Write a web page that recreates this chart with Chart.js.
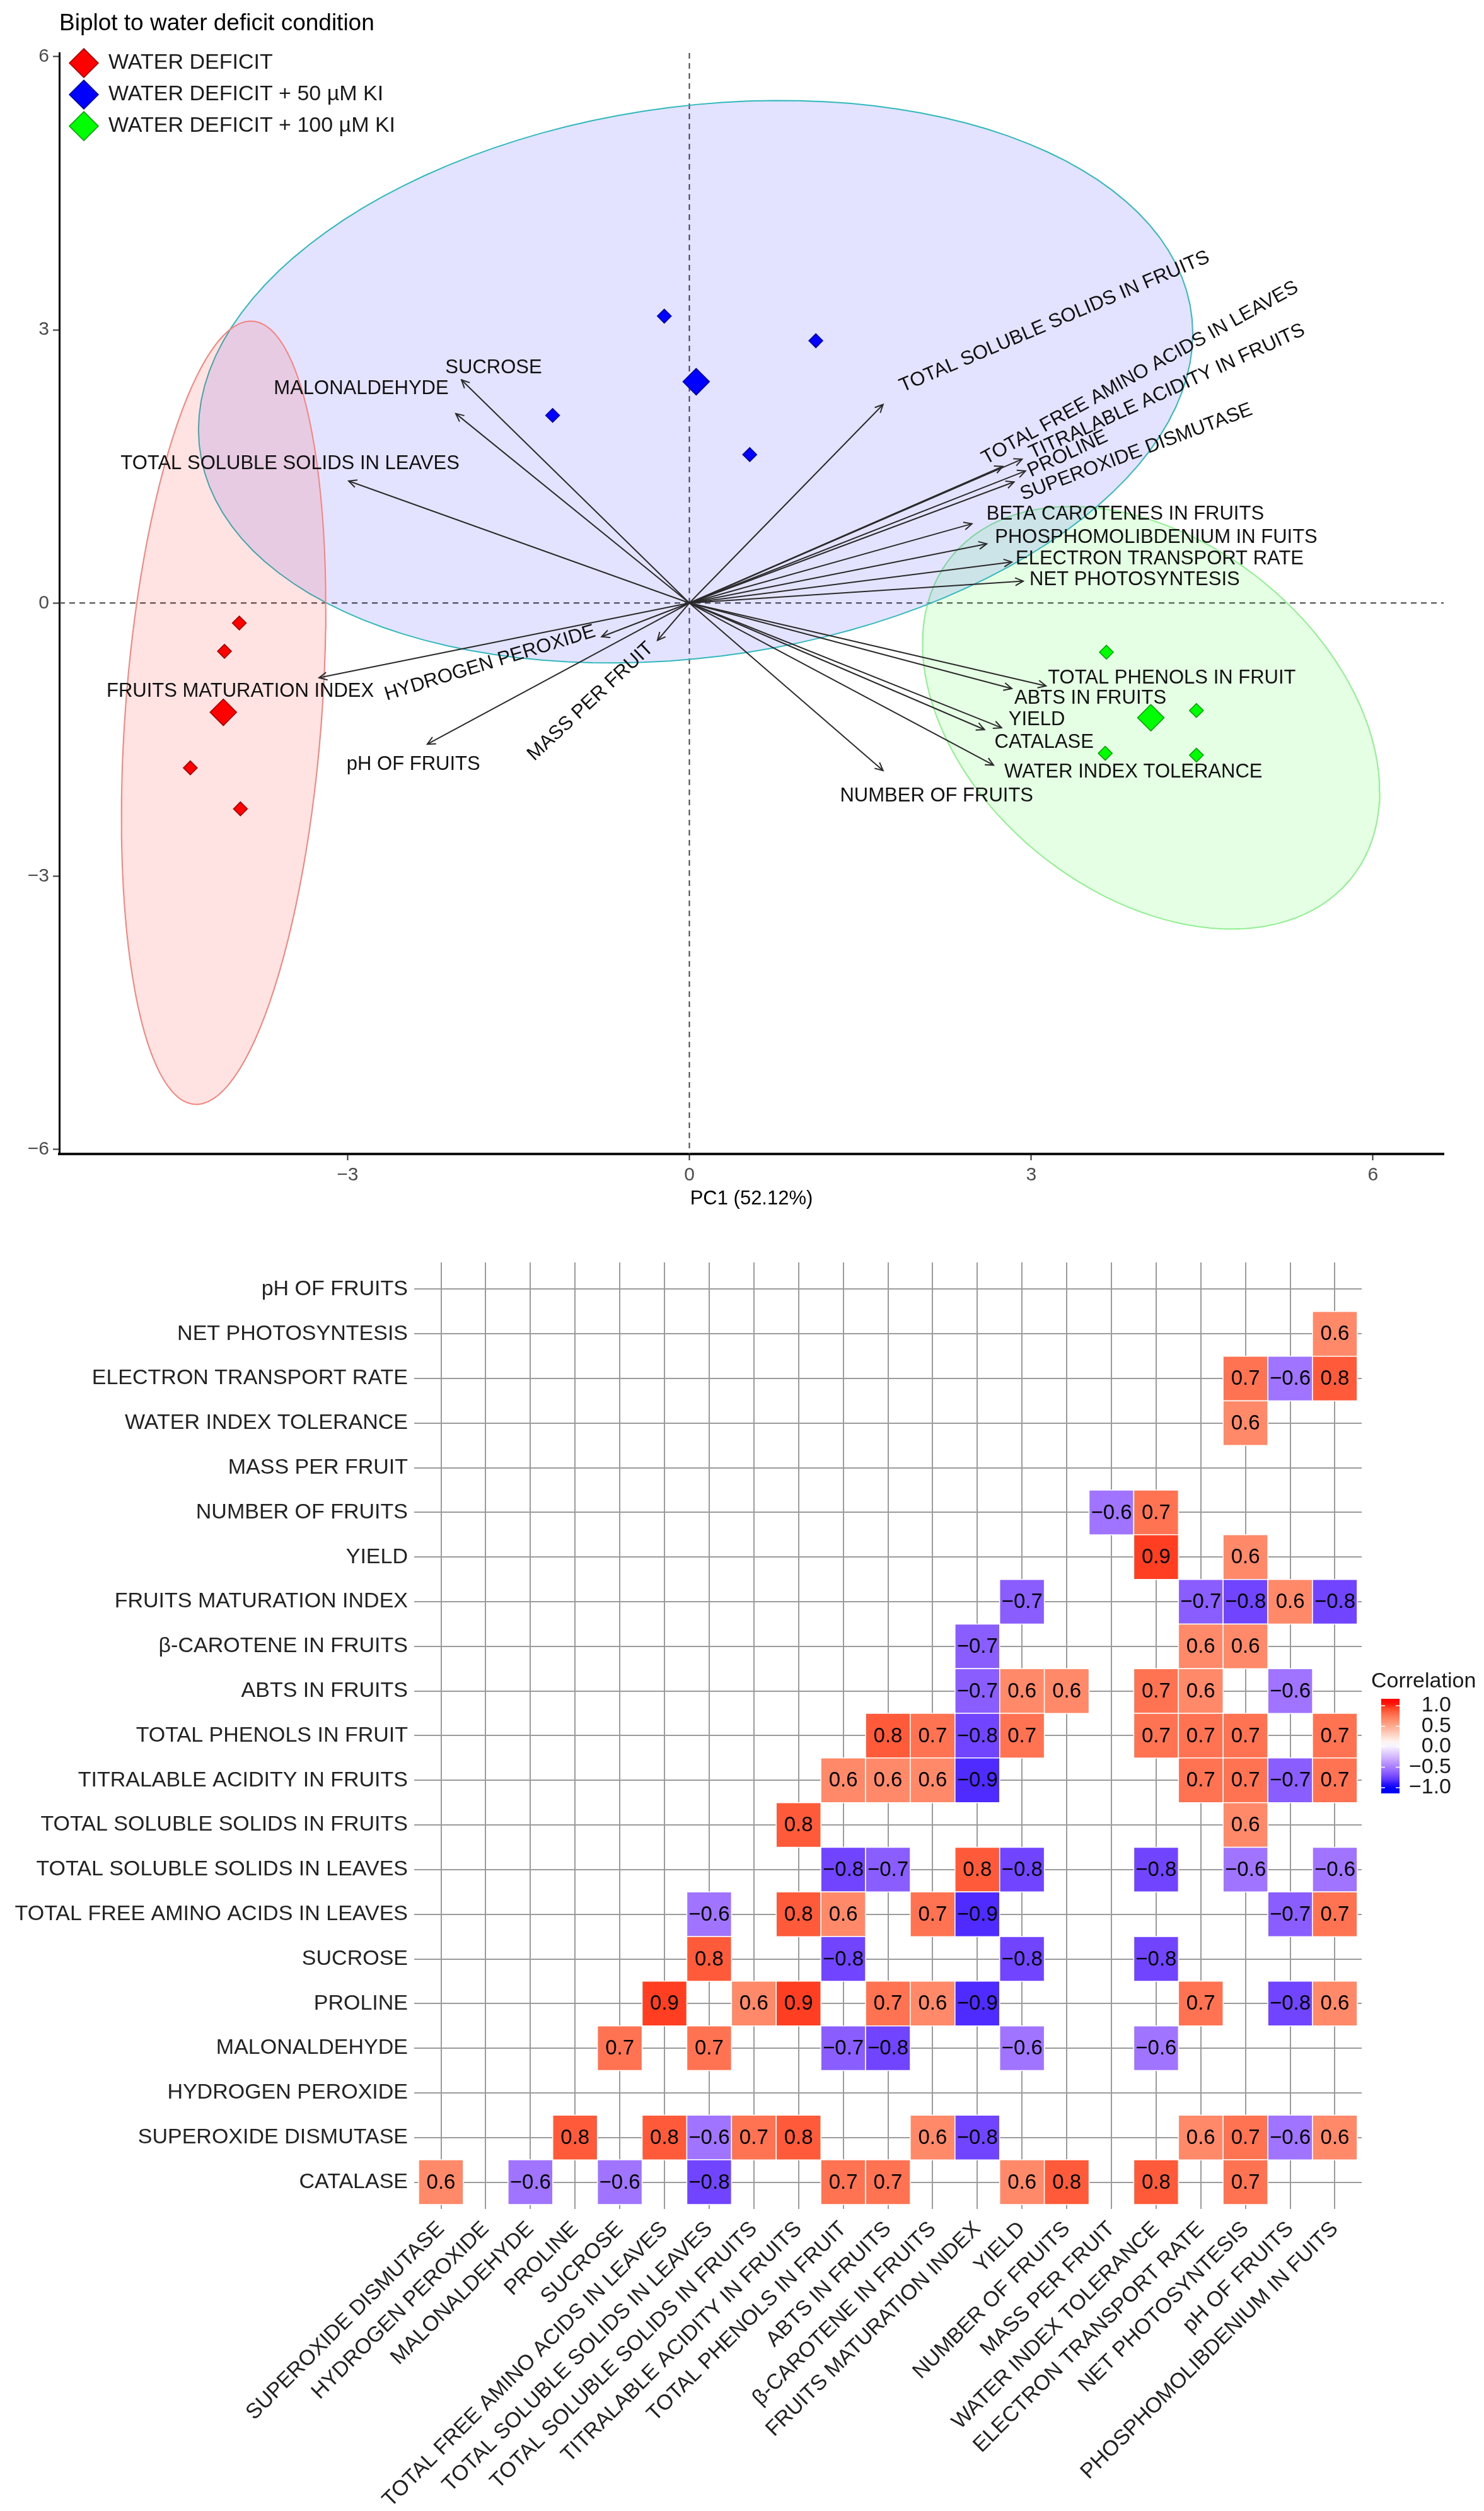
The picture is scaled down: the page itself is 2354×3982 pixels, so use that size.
<!DOCTYPE html>
<html>
<head>
<meta charset="utf-8">
<script src="https://cdn.jsdelivr.net/npm/chart.js@4.4.1/dist/chart.umd.min.js"></script>
<style>
  html, body { margin: 0; padding: 0; background: #fff; }
  #bipWrap { position: absolute; left: 0; top: 0; width: 2354px; height: 1960px; }
  #corrWrap { position: absolute; left: 0; top: 1960px; width: 2354px; height: 2022px; }
</style>
</head>
<body>
<div id="bipWrap"><canvas id="biplot"></canvas></div>
<div id="corrWrap"><canvas id="corr"></canvas></div>
<script>
const FONT = '"Liberation Sans", Arial, Helvetica, sans-serif';

// ---------- biplot data ----------
const groupNames = ['WATER DEFICIT', 'WATER DEFICIT + 50 µM KI', 'WATER DEFICIT + 100 µM KI'];
const wdX = [-3.95, -4.08, -4.38, -3.94];
const wdY = [-0.22, -0.53, -1.81, -2.26];
const ki50X = [-0.22, -1.20, 1.11, 0.53];
const ki50Y = [3.15, 2.06, 2.88, 1.63];
const ki100X = [3.66, 4.45, 3.65, 4.45];
const ki100Y = [-0.54, -1.18, -1.65, -1.67];
const meanX = [-4.09, 0.06, 4.05];
const meanY = [-1.20, 2.43, -1.26];

const varNames = [
  'SUCROSE', 'MALONALDEHYDE', 'TOTAL SOLUBLE SOLIDS IN LEAVES', 'FRUITS MATURATION INDEX',
  'HYDROGEN PEROXIDE', 'MASS PER FRUIT', 'pH OF FRUITS', 'TOTAL SOLUBLE SOLIDS IN FRUITS',
  'TOTAL FREE AMINO ACIDS IN LEAVES', 'TITRALABLE ACIDITY IN FRUITS', 'PROLINE', 'SUPEROXIDE DISMUTASE',
  'BETA CAROTENES IN FRUITS', 'PHOSPHOMOLIBDENIUM IN FUITS', 'ELECTRON TRANSPORT RATE', 'NET PHOTOSYNTESIS',
  'TOTAL PHENOLS IN FRUIT', 'ABTS IN FRUITS', 'YIELD', 'CATALASE', 'WATER INDEX TOLERANCE', 'NUMBER OF FRUITS'
];
const loadX = [-2.00, -2.05, -2.99, -3.25, -0.77, -0.28, -2.30, 1.70, 2.75, 2.92, 2.95, 2.85,
               2.48, 2.61, 2.83, 2.93, 3.13, 2.83, 2.74, 2.59, 2.67, 1.70];
const loadY = [2.45, 2.08, 1.34, -0.82, -0.37, -0.41, -1.55, 2.18, 1.50, 1.58, 1.45, 1.33,
               0.87, 0.65, 0.45, 0.24, -0.91, -0.94, -1.37, -1.39, -1.78, -1.84];

const xTicks = [-3, 0, 3, 6];
const yTicks = [-6, -3, 0, 3, 6];

// label placement relative to arrow tip: [dx px, dy px, angle deg, align]
const labelLayout = [
  [51, -19, 0, 'center'], [-150, -39, 0, 'center'], [-93, -27, 0, 'center'], [-125, 22, 0, 'center'],
  [-177, 42, 17, 'center'], [-106, 97, 43, 'center'], [-22, 32, 0, 'center'], [272, -131, 23, 'center'],
  [218, -148, 29, 'center'], [230, -107, 24.5, 'center'], [67, -27, 25, 'center'], [194, -47, 20.5, 'center'],
  [23, -15, 0, 'left'], [13, -10, 0, 'left'], [6, -5, 0, 'left'], [10, -2, 0, 'left'],
  [3, -12, 0, 'left'], [4, 15, 0, 'left'], [11, -13, 0, 'left'], [16, 20, 0, 'left'],
  [17, 11, 0, 'left'], [85, 40, 0, 'center']
];

// ---------- correlation data ----------
const rowLabels = [
  'pH OF FRUITS', 'NET PHOTOSYNTESIS', 'ELECTRON TRANSPORT RATE', 'WATER INDEX TOLERANCE', 'MASS PER FRUIT',
  'NUMBER OF FRUITS', 'YIELD', 'FRUITS MATURATION INDEX', 'β-CAROTENE IN FRUITS', 'ABTS IN FRUITS',
  'TOTAL PHENOLS IN FRUIT', 'TITRALABLE ACIDITY IN FRUITS', 'TOTAL SOLUBLE SOLIDS IN FRUITS',
  'TOTAL SOLUBLE SOLIDS IN LEAVES', 'TOTAL FREE AMINO ACIDS IN LEAVES', 'SUCROSE', 'PROLINE',
  'MALONALDEHYDE', 'HYDROGEN PEROXIDE', 'SUPEROXIDE DISMUTASE', 'CATALASE'
];
const colLabels = [
  'SUPEROXIDE DISMUTASE', 'HYDROGEN PEROXIDE', 'MALONALDEHYDE', 'PROLINE', 'SUCROSE',
  'TOTAL FREE AMINO ACIDS IN LEAVES', 'TOTAL SOLUBLE SOLIDS IN LEAVES', 'TOTAL SOLUBLE SOLIDS IN FRUITS',
  'TITRALABLE ACIDITY IN FRUITS', 'TOTAL PHENOLS IN FRUIT', 'ABTS IN FRUITS', 'β-CAROTENE IN FRUITS',
  'FRUITS MATURATION INDEX', 'YIELD', 'NUMBER OF FRUITS', 'MASS PER FRUIT', 'WATER INDEX TOLERANCE',
  'ELECTRON TRANSPORT RATE', 'NET PHOTOSYNTESIS', 'pH OF FRUITS', 'PHOSPHOMOLIBDENIUM IN FUITS'
];
// [row, column, r]
const corrCells = [
  [1, 20, 0.6],
  [2, 18, 0.7], [2, 19, -0.6], [2, 20, 0.8],
  [3, 18, 0.6],
  [5, 15, -0.6], [5, 16, 0.7],
  [6, 16, 0.9], [6, 18, 0.6],
  [7, 13, -0.7], [7, 17, -0.7], [7, 18, -0.8], [7, 19, 0.6], [7, 20, -0.8],
  [8, 12, -0.7], [8, 17, 0.6], [8, 18, 0.6],
  [9, 12, -0.7], [9, 13, 0.6], [9, 14, 0.6], [9, 16, 0.7], [9, 17, 0.6], [9, 19, -0.6],
  [10, 10, 0.8], [10, 11, 0.7], [10, 12, -0.8], [10, 13, 0.7], [10, 16, 0.7], [10, 17, 0.7], [10, 18, 0.7], [10, 20, 0.7],
  [11, 9, 0.6], [11, 10, 0.6], [11, 11, 0.6], [11, 12, -0.9], [11, 17, 0.7], [11, 18, 0.7], [11, 19, -0.7], [11, 20, 0.7],
  [12, 8, 0.8], [12, 18, 0.6],
  [13, 9, -0.8], [13, 10, -0.7], [13, 12, 0.8], [13, 13, -0.8], [13, 16, -0.8], [13, 18, -0.6], [13, 20, -0.6],
  [14, 6, -0.6], [14, 8, 0.8], [14, 9, 0.6], [14, 11, 0.7], [14, 12, -0.9], [14, 19, -0.7], [14, 20, 0.7],
  [15, 6, 0.8], [15, 9, -0.8], [15, 13, -0.8], [15, 16, -0.8],
  [16, 5, 0.9], [16, 7, 0.6], [16, 8, 0.9], [16, 10, 0.7], [16, 11, 0.6], [16, 12, -0.9], [16, 17, 0.7], [16, 19, -0.8], [16, 20, 0.6],
  [17, 4, 0.7], [17, 6, 0.7], [17, 9, -0.7], [17, 10, -0.8], [17, 13, -0.6], [17, 16, -0.6],
  [19, 3, 0.8], [19, 5, 0.8], [19, 6, -0.6], [19, 7, 0.7], [19, 8, 0.8], [19, 11, 0.6], [19, 12, -0.8], [19, 17, 0.6], [19, 18, 0.7], [19, 19, -0.6], [19, 20, 0.6],
  [20, 0, 0.6], [20, 2, -0.6], [20, 4, -0.6], [20, 6, -0.8], [20, 9, 0.7], [20, 10, 0.7], [20, 13, 0.6], [20, 14, 0.8], [20, 16, 0.8], [20, 18, 0.7]
];
const legendTicks = [1.0, 0.5, 0.0, -0.5, -1.0];

// ---------- styles ----------
const groupFill = ['#ff0000', '#0000ff', '#00ff00'];
const groupEdge = ['#9a0000', '#00009a', '#009a00'];
const ellipseFill = ['rgba(255,0,0,0.11)', 'rgba(0,0,255,0.11)', 'rgba(0,255,0,0.10)'];
const ellipseLine = ['#f4837c', '#30b8bc', '#8ff08f'];

Chart.defaults.font.family = FONT;

const minus = v => (v < 0 ? '\u2212' + Math.abs(v) : String(v));

// stat_ellipse(type = "norm", level = 0.95) on each group's points
const F95 = 9.552094; // qf(0.95, 2, 3)
function ellipse(xs, ys) {
  const n = xs.length;
  const mx = xs.reduce((a, b) => a + b, 0) / n;
  const my = ys.reduce((a, b) => a + b, 0) / n;
  let sxx = 0, syy = 0, sxy = 0;
  for (let i = 0; i < n; i++) {
    const dx = xs[i] - mx, dy = ys[i] - my;
    sxx += dx * dx; syy += dy * dy; sxy += dx * dy;
  }
  sxx /= n - 1; syy /= n - 1; sxy /= n - 1;
  const r11 = Math.sqrt(sxx), r12 = sxy / r11, r22 = Math.sqrt(syy - r12 * r12);
  const rad = Math.sqrt(2 * F95);
  const pts = [];
  for (let k = 0; k <= 120; k++) {
    const t = 2 * Math.PI * k / 120, c = Math.cos(t), s = Math.sin(t);
    pts.push({ x: mx + rad * c * r11, y: my + rad * (c * r12 + s * r22) });
  }
  return pts;
}

const groupXs = [wdX, ki50X, ki100X];
const groupYs = [wdY, ki50Y, ki100Y];

const bipDatasets = [];
groupNames.forEach((name, g) => {
  bipDatasets.push({
    label: name,
    data: groupXs[g].map((x, k) => ({ x, y: groupYs[g][k] })),
    pointStyle: 'rectRot', pointRadius: 11,
    backgroundColor: groupFill[g], borderColor: groupEdge[g], borderWidth: 1.5,
    order: 0
  });
});
bipDatasets.push({
  label: 'means',
  data: meanX.map((x, g) => ({ x, y: meanY[g] })),
  pointStyle: 'rectRot', pointRadius: 21,
  backgroundColor: groupFill, borderColor: groupEdge, borderWidth: 1.5,
  order: 0
});
varNames.forEach((name, i) => {
  bipDatasets.push({
    label: name,
    data: [{ x: 0, y: 0 }, { x: loadX[i], y: loadY[i] }],
    showLine: true, pointRadius: 0, borderColor: '#2a2a2a', borderWidth: 2,
    order: 1
  });
});
groupNames.forEach((name, g) => {
  bipDatasets.push({
    label: name + ' ellipse',
    data: ellipse(groupXs[g], groupYs[g]),
    showLine: true, pointRadius: 0, tension: 0,
    fill: 'shape', backgroundColor: ellipseFill[g], borderColor: ellipseLine[g], borderWidth: 2,
    order: 2
  });
});

function drawDiamond(ctx, x, y, r) {
  ctx.beginPath();
  ctx.moveTo(x, y - r); ctx.lineTo(x + r, y); ctx.lineTo(x, y + r); ctx.lineTo(x - r, y);
  ctx.closePath(); ctx.fill(); ctx.stroke();
}

const bipDecor = {
  id: 'bipDecor',
  beforeDatasetsDraw(chart) {
    const { ctx, chartArea: a, scales: { x, y } } = chart;
    const x0 = x.getPixelForValue(0), y0 = y.getPixelForValue(0);
    ctx.save();
    ctx.strokeStyle = '#444'; ctx.lineWidth = 2; ctx.setLineDash([9, 7]);
    ctx.beginPath(); ctx.moveTo(a.left, y0); ctx.lineTo(a.right, y0); ctx.stroke();
    ctx.beginPath(); ctx.moveTo(x0, a.top); ctx.lineTo(x0, a.bottom); ctx.stroke();
    ctx.restore();
  },
  afterDatasetsDraw(chart) {
    const { ctx, scales: { x, y } } = chart;
    const ox = x.getPixelForValue(0), oy = y.getPixelForValue(0);
    ctx.save();
    ctx.strokeStyle = '#2a2a2a'; ctx.lineWidth = 2;
    varNames.forEach((name, i) => {
      const tx = x.getPixelForValue(loadX[i]), ty = y.getPixelForValue(loadY[i]);
      const th = Math.atan2(ty - oy, tx - ox), L = 14, phi = 0.45;
      ctx.beginPath();
      ctx.moveTo(tx - L * Math.cos(th - phi), ty - L * Math.sin(th - phi));
      ctx.lineTo(tx, ty);
      ctx.lineTo(tx - L * Math.cos(th + phi), ty - L * Math.sin(th + phi));
      ctx.stroke();
    });
    ctx.fillStyle = '#111';
    ctx.font = '31px ' + FONT;
    ctx.textBaseline = 'middle';
    varNames.forEach((name, i) => {
      const [dx, dy, ang, align] = labelLayout[i];
      const tx = x.getPixelForValue(loadX[i]), ty = y.getPixelForValue(loadY[i]);
      ctx.save();
      ctx.translate(tx + dx, ty + dy);
      ctx.rotate(-ang * Math.PI / 180);
      ctx.textAlign = align;
      ctx.fillText(name, 0, 0);
      ctx.restore();
    });
    ctx.restore();
  },
  afterDraw(chart) {
    const { ctx, chartArea: a } = chart;
    ctx.save();
    ctx.fillStyle = '#000';
    ctx.font = '37px ' + FONT;
    ctx.textBaseline = 'middle'; ctx.textAlign = 'left';
    ctx.fillText('Biplot to water deficit condition', a.left, 38);
    ctx.font = '34px ' + FONT;
    groupNames.forEach((name, g) => {
      const cy = a.top + 16 + g * 50;
      ctx.fillStyle = groupFill[g]; ctx.strokeStyle = groupEdge[g]; ctx.lineWidth = 1.5;
      drawDiamond(ctx, a.left + 39, cy, 23);
      ctx.fillStyle = '#1a1a1a';
      ctx.fillText(name, a.left + 78, cy);
    });
    ctx.restore();
  }
};

new Chart(document.getElementById('biplot'), {
  type: 'scatter',
  data: { datasets: bipDatasets },
  options: {
    responsive: true, maintainAspectRatio: false, animation: false, devicePixelRatio: 1, events: [],
    layout: { padding: { left: 0, top: 84, right: 64, bottom: 20 } },
    plugins: { legend: { display: false }, tooltip: { enabled: false } },
    scales: {
      x: {
        type: 'linear', min: -5.53, max: 6.62,
        afterBuildTicks: s => { s.ticks = xTicks.map(v => ({ value: v })); },
        afterFit: s => { s.height = 110; },
        ticks: { font: { size: 30 }, color: '#4d4d4d', padding: 6, callback: v => minus(v) },
        grid: { drawOnChartArea: false, drawTicks: true, tickLength: 10, tickColor: '#333', tickWidth: 2 },
        border: { display: true, color: '#111', width: 4 },
        title: { display: true, text: 'PC1 (52.12%)', font: { size: 31 }, color: '#000', padding: { top: 4, bottom: 20 } }
      },
      y: {
        type: 'linear', min: -6.05, max: 6.04,
        afterBuildTicks: s => { s.ticks = yTicks.map(v => ({ value: v })); },
        afterFit: s => { s.width = 94; },
        ticks: { font: { size: 30 }, color: '#4d4d4d', padding: 6, callback: v => minus(v) },
        grid: { drawOnChartArea: false, drawTicks: true, tickLength: 10, tickColor: '#333', tickWidth: 2 },
        border: { display: true, color: '#000', width: 3 }
      }
    }
  },
  plugins: [bipDecor]
});

// ---------- correlation heatmap ----------
function toLin(c) { c /= 255; return c <= 0.04045 ? c / 12.92 : Math.pow((c + 0.055) / 1.055, 2.4); }
function toSrgb(c) {
  const v = c <= 0.0031308 ? 12.92 * c : 1.055 * Math.pow(c, 1 / 2.4) - 0.055;
  return Math.round(Math.max(0, Math.min(1, v)) * 255);
}
function rgbToLab(rgb) {
  const R = toLin(rgb[0]), G = toLin(rgb[1]), B = toLin(rgb[2]);
  const X = (0.4124 * R + 0.3576 * G + 0.1805 * B) / 0.95047;
  const Y = 0.2126 * R + 0.7152 * G + 0.0722 * B;
  const Z = (0.0193 * R + 0.1192 * G + 0.9505 * B) / 1.08883;
  const f = t => (t > 0.008856 ? Math.cbrt(t) : 7.787 * t + 16 / 116);
  return [116 * f(Y) - 16, 500 * (f(X) - f(Y)), 200 * (f(Y) - f(Z))];
}
function labToRgb(lab) {
  const fy = (lab[0] + 16) / 116, fx = fy + lab[1] / 500, fz = fy - lab[2] / 200;
  const inv = t => (t * t * t > 0.008856 ? t * t * t : (t - 16 / 116) / 7.787);
  const X = inv(fx) * 0.95047, Y = inv(fy), Z = inv(fz) * 1.08883;
  return [
    toSrgb(3.2406 * X - 1.5372 * Y - 0.4986 * Z),
    toSrgb(-0.9689 * X + 1.8758 * Y + 0.0415 * Z),
    toSrgb(0.0557 * X - 0.2040 * Y + 1.0570 * Z)
  ];
}
const LAB_W = rgbToLab([255, 255, 255]), LAB_R = rgbToLab([255, 0, 0]), LAB_B = rgbToLab([0, 0, 255]);
function corrColor(v) {
  const t = Math.min(1, Math.abs(v)), end = v >= 0 ? LAB_R : LAB_B;
  const c = labToRgb(LAB_W.map((w, k) => w + (end[k] - w) * t));
  return 'rgb(' + c.join(',') + ')';
}
const fmtR = v => (v < 0 ? '\u2212' : '') + Math.abs(v).toFixed(1);

const corrDecor = {
  id: 'corrDecor',
  afterDatasetsDraw(chart) {
    const { ctx } = chart;
    const meta = chart.getDatasetMeta(0);
    ctx.save();
    ctx.fillStyle = '#000';
    ctx.font = '33px ' + FONT;
    ctx.textAlign = 'center'; ctx.textBaseline = 'middle';
    meta.data.forEach((el, i) => ctx.fillText(fmtR(corrCells[i][2]), el.x, el.y + 1));
    ctx.restore();
  },
  afterDraw(chart) {
    const { ctx, chartArea: a } = chart;
    const barL = a.right + 31, barW = 29, barT = 734, barH = 150;
    ctx.save();
    ctx.fillStyle = '#1a1a1a';
    ctx.font = '34px ' + FONT;
    ctx.textAlign = 'left'; ctx.textBaseline = 'middle';
    ctx.fillText('Correlation', a.right + 15, 707);
    const grad = ctx.createLinearGradient(0, barT, 0, barT + barH);
    for (let k = 0; k <= 20; k++) grad.addColorStop(k / 20, corrColor(1.1 - 2.3 * k / 20));
    ctx.fillStyle = grad;
    ctx.fillRect(barL, barT, barW, barH);
    ctx.textAlign = 'right';
    ctx.fillStyle = '#1a1a1a';
    legendTicks.forEach(v => {
      const ty = barT + 11 + (1 - v) / 2 * (barH - 20);
      ctx.strokeStyle = '#fff'; ctx.lineWidth = 1.5;
      ctx.beginPath(); ctx.moveTo(barL, ty); ctx.lineTo(barL + 6, ty);
      ctx.moveTo(barL + barW - 6, ty); ctx.lineTo(barL + barW, ty); ctx.stroke();
      ctx.fillText(fmtR(v), barL + barW + 82, ty);
    });
    ctx.restore();
  }
};

const cellRadius = ctx => {
  const sx = ctx.chart.scales.x;
  return Math.abs(sx.getPixelForValue(1) - sx.getPixelForValue(0)) / Math.SQRT2;
};

new Chart(document.getElementById('corr'), {
  type: 'scatter',
  data: {
    datasets: [{
      label: 'Correlation',
      data: corrCells.map(([r, c, v]) => ({ x: c, y: r, v })),
      pointStyle: 'rect',
      pointRadius: cellRadius, pointHoverRadius: cellRadius,
      backgroundColor: ctx => corrColor(ctx.raw ? ctx.raw.v : 0),
      borderColor: '#fff', borderWidth: 1.5
    }]
  },
  options: {
    responsive: true, maintainAspectRatio: false, animation: false, devicePixelRatio: 1, events: [],
    layout: { padding: { left: 0, top: 42, right: 194, bottom: 0 } },
    plugins: { legend: { display: false }, tooltip: { enabled: false } },
    scales: {
      x: {
        type: 'linear', min: -0.6, max: 20.6,
        afterBuildTicks: s => { s.ticks = colLabels.map((_, i) => ({ value: i })); },
        afterFit: s => { s.height = 479; },
        ticks: { autoSkip: false, maxRotation: 45, minRotation: 45, padding: 12, font: { size: 34 }, color: '#222',
                 callback: v => colLabels[v] },
        grid: { color: '#9b9b9b', lineWidth: 2, drawTicks: false },
        border: { display: false }
      },
      y: {
        type: 'linear', min: -0.6, max: 20.6, reverse: true,
        afterBuildTicks: s => { s.ticks = rowLabels.map((_, i) => ({ value: i })); },
        afterFit: s => { s.width = 657; },
        ticks: { autoSkip: false, padding: 10, font: { size: 34 }, color: '#222', callback: v => rowLabels[v] },
        grid: { color: '#9b9b9b', lineWidth: 2, drawTicks: false },
        border: { display: false }
      }
    }
  },
  plugins: [corrDecor]
});
</script>
</body>
</html>
